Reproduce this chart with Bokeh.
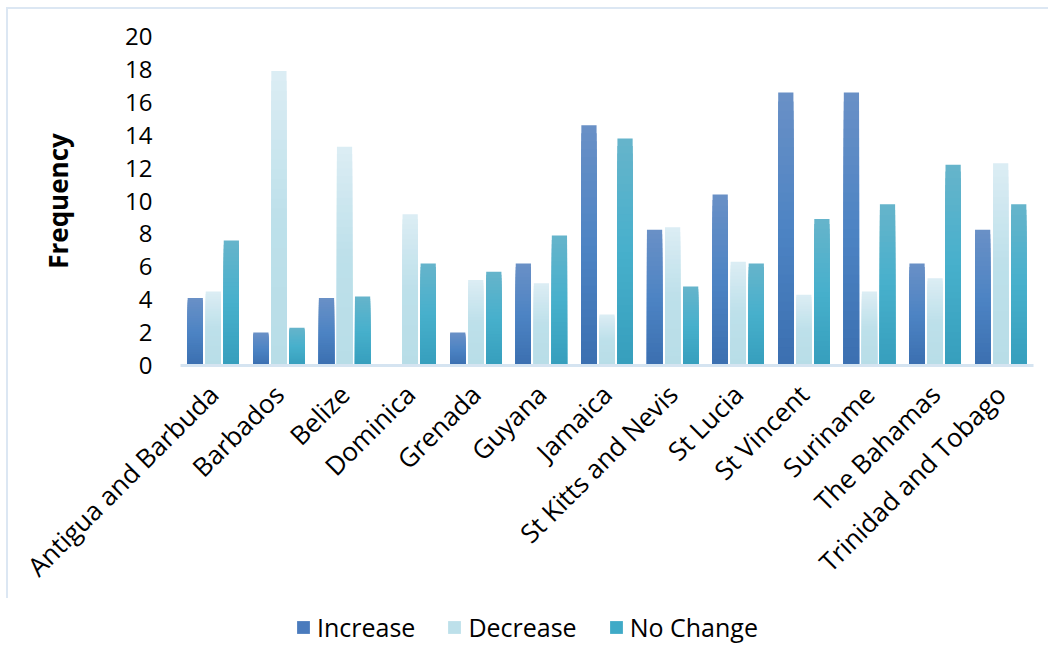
from bokeh.plotting import figure
from bokeh.layouts import column
from bokeh.models import ColumnDataSource, Range1d, FixedTicker, Legend, LegendItem
from bokeh.transform import dodge
from bokeh.embed import file_html
from bokeh.resources import INLINE
import math

countries = ["Antigua and Barbuda", "Barbados", "Belize", "Dominica", "Grenada", "Guyana",
             "Jamaica", "St Kitts and Nevis", "St Lucia", "St Vincent", "Suriname",
             "The Bahamas", "Trinidad and Tobago"]
increase = [4.1, 2.0, 4.1, 0.0, 2.0, 6.2, 14.6, 8.25, 10.4, 16.6, 16.6, 6.2, 8.25]
decrease = [4.5, 17.9, 13.3, 9.2, 5.2, 5.0, 3.1, 8.4, 6.3, 4.3, 4.5, 5.3, 12.3]
no_change = [7.6, 2.3, 4.2, 6.2, 5.7, 7.9, 13.8, 4.8, 6.2, 8.9, 9.8, 12.2, 9.8]
series_names = ["Increase", "Decrease", "No Change"]
y_ticks = [0, 2, 4, 6, 8, 10, 12, 14, 16, 18, 20]

FONT = "Open Sans"

# colour stops (bottom, middle, top) for per-bar vertical gradients
stops = {
    "Increase": ["#3b6fb0", "#4d84c4", "#6a90c6"],
    "Decrease": ["#b8dde7", "#bde0ea", "#dcedf4"],
    "No Change": ["#369ebc", "#47b0cc", "#66b4cb"],
}
legend_colors = {"Increase": "#4a7bbd", "Decrease": "#bde0ea", "No Change": "#3faac7"}


def hex2rgb(h):
    h = h.lstrip("#")
    return [int(h[i:i + 2], 16) for i in (0, 2, 4)]


def interp(cols, t):
    if t <= 0.5:
        a, b, f = hex2rgb(cols[0]), hex2rgb(cols[1]), t / 0.5
    else:
        a, b, f = hex2rgb(cols[1]), hex2rgb(cols[2]), (t - 0.5) / 0.5
    return "#%02x%02x%02x" % tuple(int(round(a[i] + (b[i] - a[i]) * f)) for i in range(3))


p = figure(x_range=countries, y_range=Range1d(0, 20), frame_width=851, frame_height=327,
           output_backend="svg", toolbar_location=None,
           min_border_left=172, min_border_top=27, min_border_right=17, min_border_bottom=235)
p.margin = (7, 0, 0, 6)
p.styles = {"border-top": "2px solid #dce7f3", "border-left": "2px solid #dce7f3"}

p.outline_line_color = None
p.xgrid.grid_line_color = None
p.ygrid.grid_line_color = None
p.background_fill_color = "white"
p.border_fill_color = "white"

data = {"Increase": increase, "Decrease": decrease, "No Change": no_change}
offsets = [-0.275, 0.0, 0.275]
N = 30
bar_w = 0.232
for name, off in zip(series_names, offsets):
    vals = data[name]
    # draw overlapping bars from tallest slice to shortest so no seams show
    for k in range(N - 1, -1, -1):
        f1 = (k + 1) / N
        src = ColumnDataSource(dict(x=countries, top=[v * f1 for v in vals]))
        c = interp(stops[name], (k + 0.5) / N)
        p.vbar(x=dodge("x", off, range=p.x_range), bottom=0, top="top", width=bar_w,
               source=src, fill_color=c, line_color=None)

p.xaxis.major_label_orientation = math.pi / 4
p.xaxis.major_label_text_font = FONT
p.xaxis.major_label_text_font_size = "26px"
p.xaxis.major_label_text_color = "#000000"
p.xaxis.axis_line_color = "#d5e4f1"
p.xaxis.axis_line_width = 3
p.xaxis.major_tick_line_color = None
p.xaxis.minor_tick_line_color = None
p.xaxis.major_label_standoff = 18

p.yaxis.ticker = FixedTicker(ticks=y_ticks)
p.yaxis.axis_line_color = None
p.yaxis.major_tick_line_color = None
p.yaxis.minor_tick_line_color = None
p.yaxis.major_label_text_font = FONT
p.yaxis.major_label_text_font_size = "24px"
p.yaxis.major_label_text_color = "#000000"
p.yaxis.major_label_standoff = 22
p.yaxis.axis_label = "Frequency"
p.yaxis.axis_label_text_font = FONT
p.yaxis.axis_label_text_font_size = "26px"
p.yaxis.axis_label_text_font_style = "bold"
p.yaxis.axis_label_text_color = "#000000"
p.yaxis.axis_label_standoff = 46

# separate legend strip beneath the chart
lf = figure(width=1032, height=64, output_backend="svg", toolbar_location=None,
            x_axis_type=None, y_axis_type=None, min_border=0,
            x_range=Range1d(0, 1), y_range=Range1d(0, 1))
lf.margin = (0, 0, 0, 8)
lf.outline_line_color = None
lf.background_fill_color = "white"
lf.border_fill_color = "white"
items = []
for name in series_names:
    r = lf.vbar(x=[0.5], top=[0], width=0.0, fill_color=legend_colors[name], line_color=None)
    items.append(LegendItem(label=name, renderers=[r]))
legend = Legend(items=items, orientation="horizontal", location=(115, 18),
                label_text_font=FONT, label_text_font_size="25px", label_text_color="#000000",
                glyph_width=16, glyph_height=16, spacing=31, label_standoff=6,
                border_line_color=None, background_fill_alpha=0, margin=0, padding=4)
lf.add_layout(legend, "center")

layout = column(p, lf, spacing=0)
open("out.html", "w").write(file_html(layout, INLINE))
